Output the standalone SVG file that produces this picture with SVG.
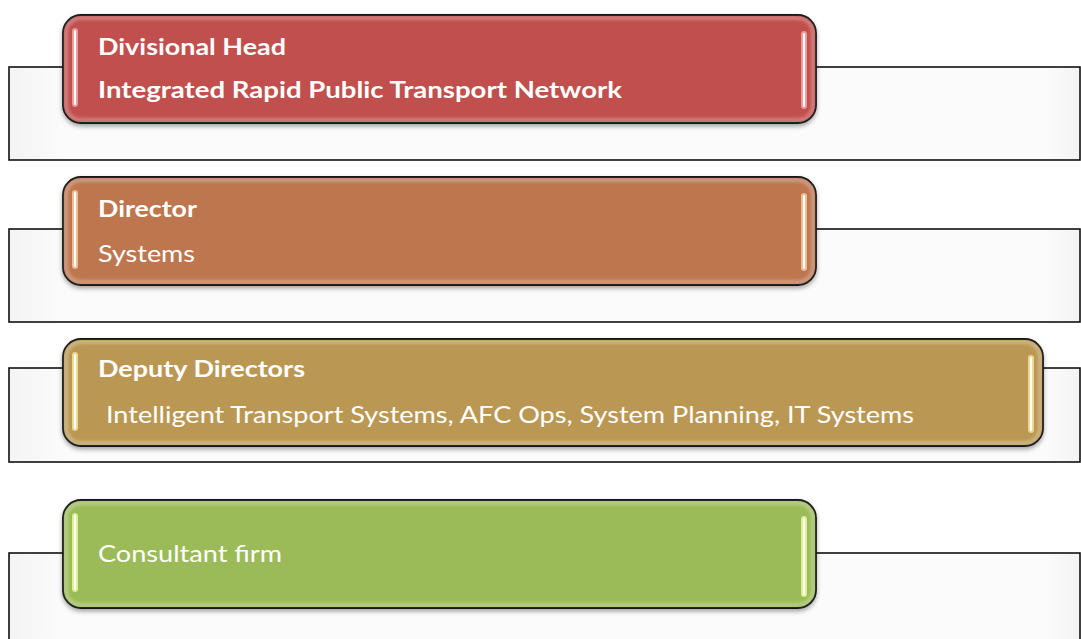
<svg xmlns="http://www.w3.org/2000/svg" width="1081" height="639" viewBox="0 0 1081 639">
  <style>
    .frame { fill: url(#frameFill); stroke: #111; stroke-width: 1.6; }
    .box { stroke: #111; stroke-width: 1.8; filter: url(#shadow); }
    .sheen { fill: none; stroke: #fff; stroke-opacity: 0.28; stroke-width: 4; filter: url(#soft); }
    .bar-glow { stroke-width: 6; stroke-linecap: round; stroke-opacity: 0.85; }
    .bar-core { stroke: #fff; stroke-width: 2.2; stroke-linecap: round; }
    .t { font-family: Lato, "Open Sans", "Liberation Sans", sans-serif; fill: #fff; font-size: 23px; }
    .b { font-weight: bold; }
  </style>
  <defs>
    <linearGradient id="frameFill" x1="0" y1="0" x2="1" y2="0">
      <stop offset="0" stop-color="#f4f4f4"/>
      <stop offset="0.05" stop-color="#fbfbfb"/>
      <stop offset="0.97" stop-color="#fbfbfb"/>
      <stop offset="1" stop-color="#f3f3f3"/>
    </linearGradient>
    <filter id="shadow" x="-5%" y="-10%" width="110%" height="130%">
      <feDropShadow dx="0" dy="2.5" stdDeviation="2" flood-color="#000" flood-opacity="0.35"/>
    </filter>
    <filter id="soft" x="-5%" y="-10%" width="110%" height="120%">
      <feGaussianBlur stdDeviation="1.5"/>
    </filter>
  </defs>

  <!-- Tier 1: divisional head -->
  <g id="divisional-head">
    <rect class="frame" x="9" y="67" width="1071" height="93"/>
    <rect class="box" x="63" y="15" width="753" height="108" rx="18" fill="#C0504D"/>
    <rect class="sheen" x="66" y="18" width="747" height="102" rx="15"/>
    <line class="bar-glow" x1="75" y1="31" x2="75" y2="104" stroke="#f2a6a4"/>
    <line class="bar-core" x1="75" y1="31" x2="75" y2="104"/>
    <line class="bar-glow" x1="804" y1="34" x2="804" y2="106" stroke="#f2a6a4"/>
    <line class="bar-core" x1="804" y1="34" x2="804" y2="106"/>
    <text class="t b" x="98" y="55" textLength="188" lengthAdjust="spacingAndGlyphs">Divisional Head</text>
    <text class="t b" x="98" y="98" textLength="524" lengthAdjust="spacingAndGlyphs">Integrated Rapid Public Transport Network</text>
  </g>

  <!-- Tier 2: director -->
  <g id="director">
    <rect class="frame" x="9" y="229" width="1071" height="93"/>
    <rect class="box" x="63" y="177" width="753" height="108" rx="18" fill="#BE764F"/>
    <rect class="sheen" x="66" y="180" width="747" height="102" rx="15"/>
    <line class="bar-glow" x1="75" y1="193" x2="75" y2="266" stroke="#f6c79c"/>
    <line class="bar-core" x1="75" y1="193" x2="75" y2="266"/>
    <line class="bar-glow" x1="804" y1="196" x2="804" y2="268" stroke="#f6c79c"/>
    <line class="bar-core" x1="804" y1="196" x2="804" y2="268"/>
    <text class="t b" x="98" y="217" textLength="99" lengthAdjust="spacingAndGlyphs">Director</text>
    <text class="t" x="98" y="262" textLength="97" lengthAdjust="spacingAndGlyphs">Systems</text>
  </g>

  <!-- Tier 3: deputy directors -->
  <g id="deputy-directors">
    <rect class="frame" x="9" y="368" width="1071" height="94"/>
    <rect class="box" x="63" y="339" width="980" height="107" rx="18" fill="#BA9852"/>
    <rect class="sheen" x="66" y="342" width="974" height="101" rx="15"/>
    <line class="bar-glow" x1="75" y1="355" x2="75" y2="428" stroke="#f6e19a"/>
    <line class="bar-core" x1="75" y1="355" x2="75" y2="428"/>
    <line class="bar-glow" x1="1031" y1="358" x2="1031" y2="430" stroke="#f6e19a"/>
    <line class="bar-core" x1="1031" y1="358" x2="1031" y2="430"/>
    <text class="t b" x="98" y="377" textLength="207" lengthAdjust="spacingAndGlyphs">Deputy Directors</text>
    <text class="t" x="106" y="423" textLength="808" lengthAdjust="spacingAndGlyphs">Intelligent Transport Systems, AFC Ops, System Planning, IT Systems</text>
  </g>

  <!-- Tier 4: consultant -->
  <g id="consultant-firm">
    <rect class="frame" x="9" y="553" width="1071" height="100"/>
    <rect class="box" x="63" y="500" width="753" height="108" rx="18" fill="#9BBB59"/>
    <rect class="sheen" x="66" y="503" width="747" height="102" rx="15"/>
    <line class="bar-glow" x1="75" y1="516" x2="75" y2="589" stroke="#e9f79e"/>
    <line class="bar-core" x1="75" y1="516" x2="75" y2="589"/>
    <line class="bar-glow" x1="804" y1="519" x2="804" y2="594" stroke="#e9f79e"/>
    <line class="bar-core" x1="804" y1="519" x2="804" y2="594"/>
    <text class="t" x="98" y="562" textLength="184" lengthAdjust="spacingAndGlyphs">Consultant firm</text>
  </g>
</svg>
